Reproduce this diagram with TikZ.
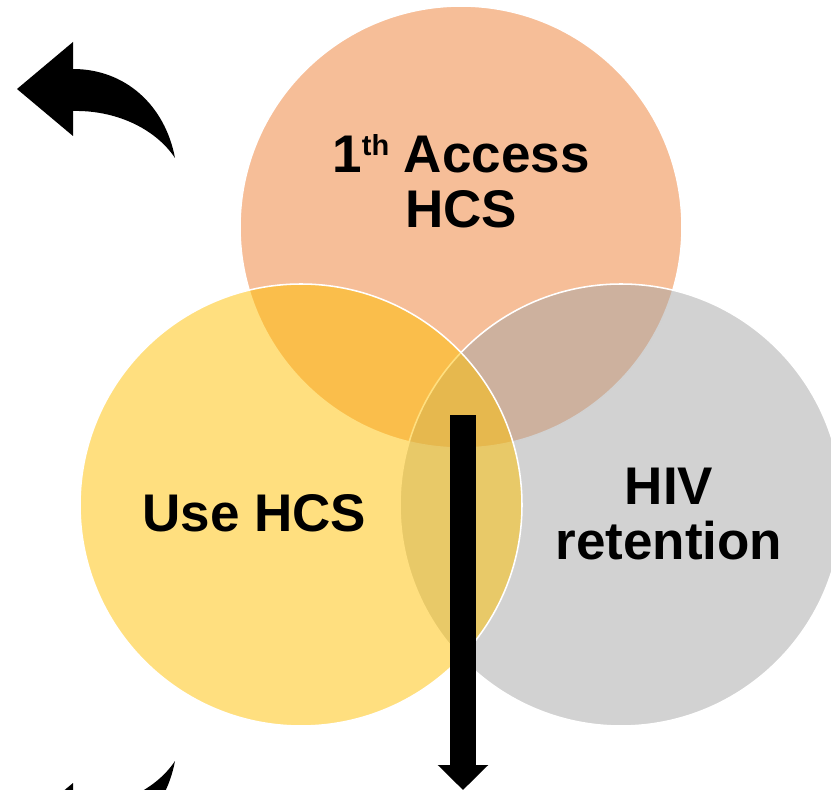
\documentclass[tikz,border=0pt]{standalone}
\usepackage{fontspec}
\setmainfont{Liberation Sans}
\usetikzlibrary{arrows.meta}
\definecolor{vennA}{HTML}{ED7D31}
\definecolor{vennB}{HTML}{A5A5A5}
\definecolor{vennC}{HTML}{FFC000}

\tikzset{
  venn/.style={fill opacity=0.5,draw=white,line width=1.1pt},
  vlabel/.style={font=\fontsize{37.7}{39.1}\selectfont\bfseries,align=center,inner sep=0pt},
}

\begin{document}
\begin{tikzpicture}[x=0.25mm,y=-0.25mm]
  \useasboundingbox (0,0) rectangle (831,790);
  \clip (0,0) rectangle (831,790);
  % circles, back to front
  \filldraw[venn,fill=vennA] (461,227) circle[radius=221];
  \filldraw[venn,fill=vennB] (621,505) circle[radius=221];
  \filldraw[venn,fill=vennC] (301,505) circle[radius=221];
  \node[vlabel] (access) at (461,181) {1\raisebox{12pt}{\fontsize{20.6}{21}\selectfont th} Access\\HCS};
  \node[vlabel] (retain) at (669,514) {HIV\\retention};
  \node[vlabel] (usehcs) at (254.5,513) {Use HCS};
  % turning arrows on the left (the lower one is mirrored)
  \fill (17,89) -- (73,42) -- (73,69) .. controls (125,69) and (165,105) .. (175,158)
        .. controls (155,128) and (115,110) .. (73,111) -- (73,136) -- cycle;
  \fill (17,830) -- (73,877) -- (73,850) .. controls (125,850) and (165,814) .. (175,761)
        .. controls (155,791) and (115,809) .. (73,808) -- (73,783) -- cycle;
  % downward arrow
  \coordinate (droptop) at (463,415);
  \coordinate (dropend) at (463,790);
  \draw[line width=6.5mm,-{Triangle[length=6.25mm,width=12.25mm]}] (droptop) -- (dropend);
\end{tikzpicture}
\end{document}
